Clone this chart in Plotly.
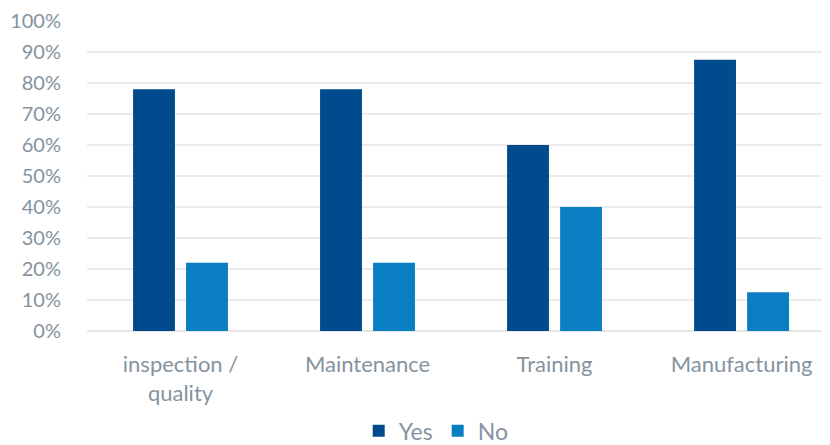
import plotly.graph_objects as go

categories = ["inspection /<br>quality", "Maintenance", "Training", "Manufacturing"]
yes_values = [0.78, 0.78, 0.60, 0.875]
no_values = [0.22, 0.22, 0.40, 0.125]
y_ticks = [0, 0.1, 0.2, 0.3, 0.4, 0.5, 0.6, 0.7, 0.8, 0.9, 1.0]
y_tick_labels = ["0%", "10%", "20%", "30%", "40%", "50%", "60%", "70%", "80%", "90%", "100%"]

FONT = "Lato, Open Sans, sans-serif"
TXT = "#8593a0"

fig = go.Figure()
fig.add_trace(go.Bar(name="Yes", x=categories, y=yes_values, marker_color="#004B8D",
                     marker_line_width=0))
fig.add_trace(go.Bar(name="No", x=categories, y=no_values, marker_color="#0A7EC2",
                     marker_line_width=0))

# The page body adds an 8px margin, so the figure is sized to fit the window.
fig.update_layout(
    width=822, height=437,
    margin=dict(l=79, r=0, t=13, b=114, autoexpand=False),
    paper_bgcolor="white", plot_bgcolor="white",
    barmode="group", bargap=0.433, bargroupgap=0.21,
    font=dict(family=FONT, size=21, color=TXT),
    showlegend=True,
    legend=dict(orientation="h", x=0.47, xanchor="center", y=-0.322, yanchor="middle",
                font=dict(size=23, color=TXT), itemwidth=30, traceorder="normal",
                itemsizing="constant", tracegroupgap=0),
    xaxis=dict(range=[-0.5, 3.473], showgrid=False, showline=False, zeroline=False,
               automargin=False,
               ticks="outside", ticklen=14, tickcolor="rgba(0,0,0,0)",
               tickfont=dict(size=22, color=TXT)),
    yaxis=dict(range=[0, 1], tickvals=y_ticks, ticktext=y_tick_labels,
               automargin=False,
               showgrid=True, gridcolor="#ebebeb", gridwidth=1.5,
               zeroline=True, zerolinecolor="#e6e6e6", zerolinewidth=1.5,
               showline=False, ticks="outside", ticklen=21, tickcolor="rgba(0,0,0,0)",
               tickfont=dict(size=20, color=TXT)),
)

fig.write_html("out.html")
